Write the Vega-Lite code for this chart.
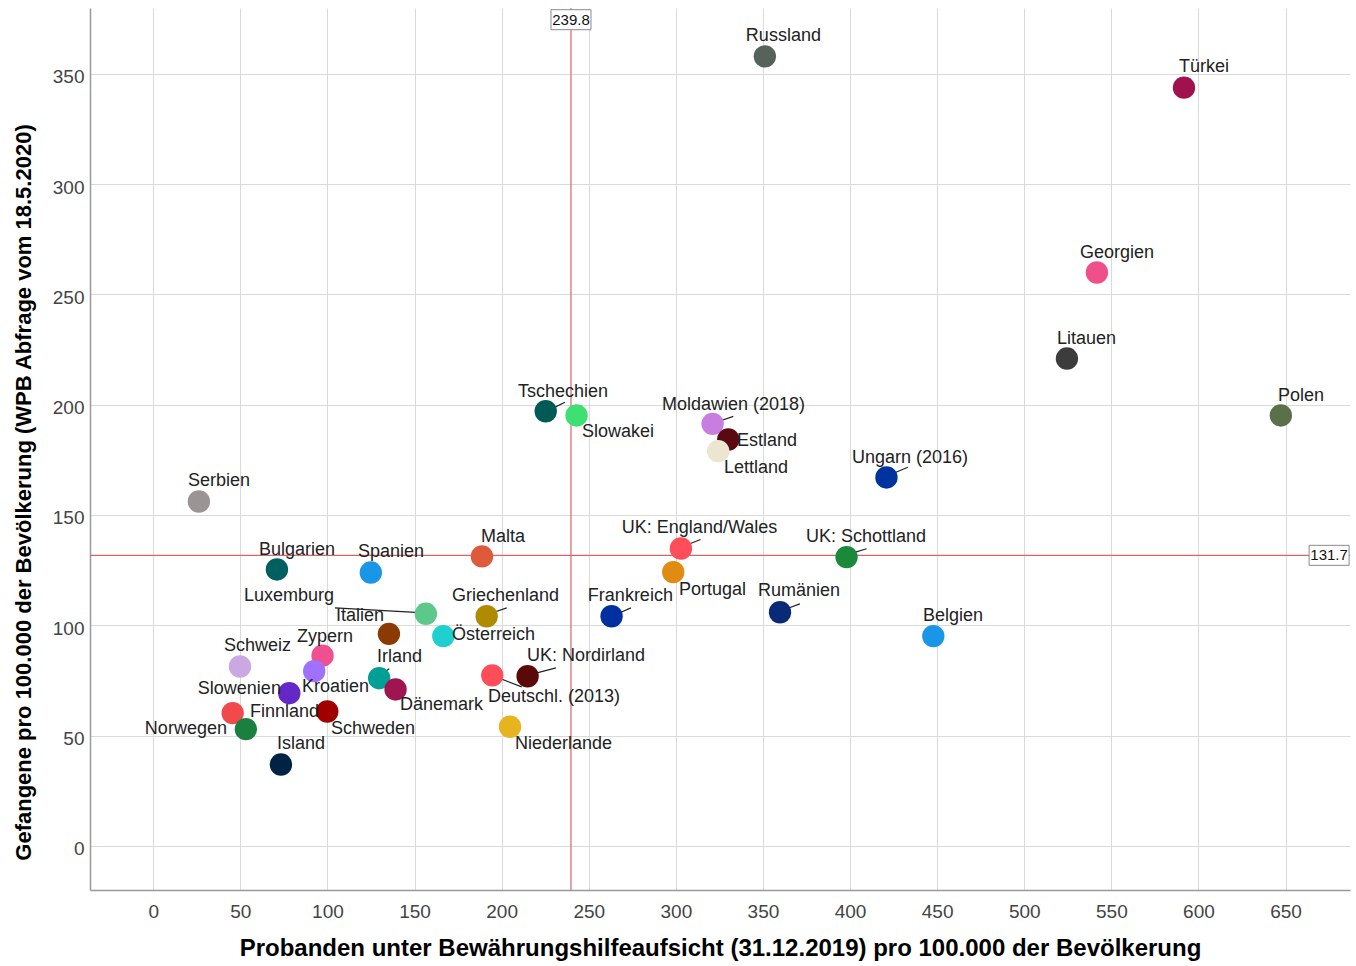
{
  "$schema": "https://vega.github.io/schema/vega-lite/v6.json",
  "width": 1260,
  "height": 882,
  "autosize": "none",
  "padding": {"left": 90, "top": 8, "right": 6, "bottom": 76},
  "background": "white",
  "config": {
    "view": {"stroke": null},
    "font": "Liberation Sans",
    "axis": {
      "grid": true,
      "gridColor": "#dadada",
      "gridWidth": 1,
      "ticks": false,
      "domainColor": "#999999",
      "domainWidth": 1.5,
      "labelFont": "Liberation Sans",
      "labelFontSize": 19,
      "labelColor": "#444444",
      "titleFont": "Liberation Sans",
      "titleFontWeight": "bold",
      "titleColor": "#000000"
    }
  },
  "datasets": {
    "laender": [
      {"land": "Russland", "x": 351.1, "y": 357.9, "lx": 340.2, "ly": 366.9},
      {"land": "Türkei", "x": 591.7, "y": 343.7, "lx": 588.8, "ly": 353.2},
      {"land": "Georgien", "x": 541.7, "y": 259.9, "lx": 532.0, "ly": 268.9},
      {"land": "Litauen", "x": 524.5, "y": 220.9, "lx": 518.8, "ly": 229.9},
      {"land": "Polen", "x": 647.3, "y": 195.1, "lx": 645.6, "ly": 204.1},
      {"land": "Tschechien", "x": 225.3, "y": 197.0, "lx": 209.4, "ly": 205.9},
      {"land": "Slowakei", "x": 243.0, "y": 195.1, "lx": 246.1, "ly": 187.4},
      {"land": "Moldawien (2018)", "x": 321.1, "y": 191.3, "lx": 292.0, "ly": 200.0},
      {"land": "Estland", "x": 330.1, "y": 184.2, "lx": 335.1, "ly": 183.7},
      {"land": "Lettland", "x": 324.3, "y": 178.9, "lx": 327.6, "ly": 171.4},
      {"land": "Ungarn (2016)", "x": 420.9, "y": 167.0, "lx": 401.1, "ly": 176.0},
      {"land": "Serbien", "x": 26.2, "y": 156.1, "lx": 19.9, "ly": 165.2},
      {"land": "Malta", "x": 188.7, "y": 131.2, "lx": 188.1, "ly": 140.2},
      {"land": "UK: England/Wales", "x": 302.9, "y": 134.8, "lx": 269.0, "ly": 144.3},
      {"land": "UK: Schottland", "x": 398.0, "y": 130.9, "lx": 374.7, "ly": 140.2},
      {"land": "Bulgarien", "x": 71.0, "y": 125.3, "lx": 60.7, "ly": 133.9},
      {"land": "Spanien", "x": 124.9, "y": 123.9, "lx": 117.5, "ly": 133.4},
      {"land": "Portugal", "x": 298.5, "y": 124.1, "lx": 301.8, "ly": 116.2},
      {"land": "Luxemburg", "x": 156.5, "y": 105.2, "lx": 52.1, "ly": 113.1},
      {"land": "Italien", "x": 135.3, "y": 96.1, "lx": 104.9, "ly": 104.4},
      {"land": "Griechenland", "x": 191.4, "y": 104.1, "lx": 171.5, "ly": 113.1},
      {"land": "Frankreich", "x": 263.1, "y": 104.1, "lx": 249.5, "ly": 113.1},
      {"land": "Rumänien", "x": 359.8, "y": 105.9, "lx": 347.1, "ly": 115.4},
      {"land": "Belgien", "x": 447.8, "y": 95.1, "lx": 441.9, "ly": 104.4},
      {"land": "Österreich", "x": 166.5, "y": 95.1, "lx": 171.5, "ly": 95.4},
      {"land": "Zypern", "x": 97.2, "y": 86.2, "lx": 82.5, "ly": 94.9},
      {"land": "Schweiz", "x": 49.8, "y": 81.3, "lx": 40.6, "ly": 90.4},
      {"land": "Kroatien", "x": 92.4, "y": 79.2, "lx": 85.4, "ly": 71.9},
      {"land": "Irland", "x": 129.7, "y": 76.0, "lx": 128.4, "ly": 85.4},
      {"land": "UK: Nordirland", "x": 214.9, "y": 76.9, "lx": 214.5, "ly": 85.9},
      {"land": "Deutschl. (2013)", "x": 194.6, "y": 77.3, "lx": 192.1, "ly": 67.7},
      {"land": "Dänemark", "x": 139.1, "y": 70.9, "lx": 141.6, "ly": 63.7},
      {"land": "Slowenien", "x": 78.1, "y": 69.2, "lx": 25.6, "ly": 70.9},
      {"land": "Norwegen", "x": 45.6, "y": 60.2, "lx": -4.8, "ly": 52.8},
      {"land": "Finnland", "x": 53.2, "y": 52.9, "lx": 55.5, "ly": 60.9},
      {"land": "Schweden", "x": 99.9, "y": 60.9, "lx": 102.0, "ly": 53.2},
      {"land": "Island", "x": 73.3, "y": 36.9, "lx": 71.0, "ly": 46.0},
      {"land": "Niederlande", "x": 204.8, "y": 54.0, "lx": 207.6, "ly": 46.4}
    ],
    "leaders": [
      {"land": "Luxemburg", "x": 104.3, "y": 107.9, "x2": 153.1, "y2": 105.7},
      {"land": "Deutschl. (2013)", "x": 198.0, "y": 76.2, "x2": 211.5, "y2": 72.1},
      {"land": "UK: Nordirland", "x": 218.1, "y": 78.0, "x2": 231.2, "y2": 80.7},
      {"land": "UK: England/Wales", "x": 306.9, "y": 136.6, "x2": 314.2, "y2": 138.9},
      {"land": "UK: Schottland", "x": 401.7, "y": 132.8, "x2": 409.5, "y2": 134.7},
      {"land": "Frankreich", "x": 266.6, "y": 105.2, "x2": 274.2, "y2": 107.9},
      {"land": "Rumänien", "x": 363.6, "y": 107.5, "x2": 371.2, "y2": 109.7},
      {"land": "Griechenland", "x": 194.8, "y": 105.7, "x2": 202.9, "y2": 107.9},
      {"land": "Irland", "x": 132.4, "y": 78.5, "x2": 135.5, "y2": 80.3},
      {"land": "Tschechien", "x": 228.7, "y": 198.1, "x2": 236.3, "y2": 201.1},
      {"land": "Moldawien (2018)", "x": 324.9, "y": 192.5, "x2": 333.0, "y2": 194.7},
      {"land": "Ungarn (2016)", "x": 424.6, "y": 168.8, "x2": 433.2, "y2": 171.6}
    ]
  },
  "layer": [
    {
      "data": {"values": [{"v": 239.8}]},
      "mark": {"type": "rule", "color": "#cc6a6a", "strokeWidth": 1.2},
      "encoding": {
        "x": {"field": "v", "type": "quantitative",
          "scale": {"domain": [-36.3, 687], "nice": false, "zero": false},
          "axis": {"values": [0, 50, 100, 150, 200, 250, 300, 350, 400, 450, 500, 550, 600, 650],
            "title": "Probanden unter Bewährungshilfeaufsicht (31.12.2019) pro 100.000 der Bevölkerung",
            "titleFontSize": 24, "labelPadding": 12, "titleBaseline": "middle", "titleY": 58}}
      }
    },
    {
      "data": {"values": [{"v": 131.7}]},
      "mark": {"type": "rule", "color": "#cc6a6a", "strokeWidth": 1.2},
      "encoding": {
        "y": {"field": "v", "type": "quantitative",
          "scale": {"domain": [-20, 379.8], "nice": false, "zero": false},
          "axis": {"values": [0, 50, 100, 150, 200, 250, 300, 350],
            "title": "Gefangene pro 100.000 der Bevölkerung (WPB Abfrage vom 18.5.2020)",
            "titleFontSize": 22, "labelPadding": 6, "labelOffset": 3, "titleBaseline": "middle", "titleX": -67, "titleY": 484}}
      }
    },
    {
      "data": {"name": "leaders"},
      "mark": {"type": "rule", "color": "#222222", "strokeWidth": 1.2},
      "encoding": {
        "x": {"field": "x", "type": "quantitative"},
        "y": {"field": "y", "type": "quantitative"},
        "x2": {"field": "x2"},
        "y2": {"field": "y2"}
      }
    },
    {
      "data": {"name": "laender"},
      "mark": {"type": "circle", "size": 500, "opacity": 1},
      "encoding": {
        "x": {"field": "x", "type": "quantitative"},
        "y": {"field": "y", "type": "quantitative"},
        "color": {"field": "land", "type": "nominal", "legend": null,
          "scale": {
            "domain": ["Russland", "Türkei", "Georgien", "Litauen", "Polen", "Tschechien", "Slowakei", "Moldawien (2018)", "Estland", "Lettland", "Ungarn (2016)", "Serbien", "Malta", "UK: England/Wales", "UK: Schottland", "Bulgarien", "Spanien", "Portugal", "Luxemburg", "Italien", "Griechenland", "Frankreich", "Rumänien", "Belgien", "Österreich", "Zypern", "Schweiz", "Kroatien", "Irland", "UK: Nordirland", "Deutschl. (2013)", "Dänemark", "Slowenien", "Norwegen", "Finnland", "Schweden", "Island", "Niederlande"],
            "range": ["#56625c", "#a0124e", "#f0508a", "#3c3c3c", "#5a7048", "#005a55", "#3ee072", "#c87ee0", "#5a0812", "#ece5d0", "#0032a0", "#9a9494", "#de5a3a", "#ff4d5a", "#1a8a3a", "#005f5f", "#1a96e6", "#e08c12", "#5cc98a", "#8a3a02", "#b08a00", "#0030a0", "#0a2a78", "#1a96e6", "#20d0d0", "#f05090", "#caa8e2", "#a070ff", "#00a096", "#5a0808", "#ff4d5a", "#a01450", "#6428c8", "#f04a4a", "#1a8040", "#a00000", "#002244", "#e6b41e"]
          }}
      }
    },
    {
      "data": {"name": "laender"},
      "mark": {"type": "text", "align": "left", "baseline": "middle", "fontSize": 18, "font": "Liberation Sans", "color": "#222222"},
      "encoding": {
        "x": {"field": "lx", "type": "quantitative"},
        "y": {"field": "ly", "type": "quantitative"},
        "text": {"field": "land"}
      }
    },
    {
      "data": {"values": [{"v": 239.8, "h": 374.5, "t": "239.8"}, {"v": 675, "h": 131.7, "t": "131.7"}]},
      "mark": {"type": "point", "shape": "M-1,-0.5H1V0.5H-1Z", "size": 1600, "filled": true, "fill": "white", "stroke": "#8a8a8a", "strokeWidth": 1, "opacity": 1},
      "encoding": {
        "x": {"field": "v", "type": "quantitative"},
        "y": {"field": "h", "type": "quantitative"}
      }
    },
    {
      "data": {"values": [{"v": 239.8, "h": 374.5, "t": "239.8"}, {"v": 675, "h": 131.7, "t": "131.7"}]},
      "mark": {"type": "text", "align": "center", "baseline": "middle", "fontSize": 15, "font": "Liberation Sans", "color": "#111111"},
      "encoding": {
        "x": {"field": "v", "type": "quantitative"},
        "y": {"field": "h", "type": "quantitative"},
        "text": {"field": "t"}
      }
    }
  ]
}
